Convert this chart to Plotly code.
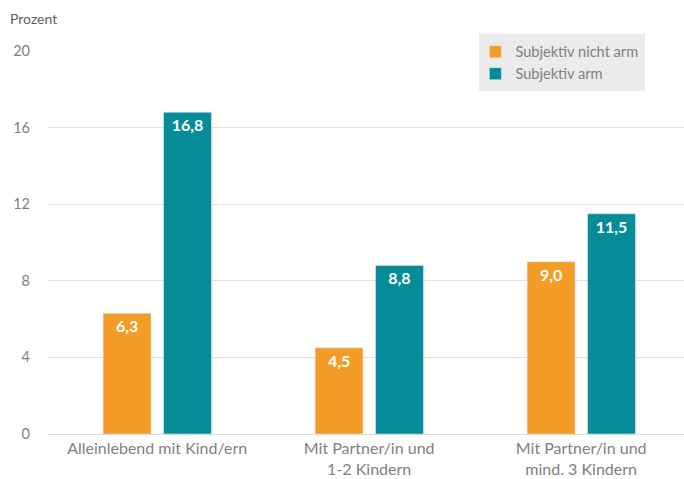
import plotly.graph_objects as go

categories = ["Alleinlebend mit Kind/ern", "Mit Partner/in und<br>1-2 Kindern", "Mit Partner/in und<br>mind. 3 Kindern"]
nicht_arm = [6.3, 4.5, 9.0]
arm = [16.8, 8.8, 11.5]
series_names = ["Subjektiv nicht arm", "Subjektiv arm"]
colors = ["#F39C26", "#068C97"]
y_ticks = [0, 4, 8, 12, 16, 20]

FONT = "Lato"
fig = go.Figure()
for name, vals, col, off in [(series_names[0], nicht_arm, colors[0], -0.255),
                              (series_names[1], arm, colors[1], 0.03)]:
    fig.add_trace(go.Bar(
        x=categories, y=vals, name=name, marker_color=col,
        width=0.226, offset=off,
        text=[f"{v:.1f}".replace(".", ",") for v in vals],
        textposition="inside", insidetextanchor="end", textangle=0,
        constraintext="none",
        textfont=dict(family=FONT, size=16, color="white", weight="bold"),
        cliponaxis=False,
    ))

fig.update_layout(
    width=684, height=479,
    margin=dict(l=48, r=0, t=51, b=45),
    paper_bgcolor="white", plot_bgcolor="white",
    font=dict(family=FONT, size=15, color="#808080"),
    barmode="group",
    showlegend=True,
    legend=dict(x=0.672, y=1.04, xanchor="left", yanchor="top",
                bgcolor="rgba(0,0,0,0)", font=dict(size=14.6, color="#7F7F7F"),
                itemwidth=30, tracegroupgap=0),
    xaxis=dict(range=[-0.515, 2.485], showgrid=False, showline=True,
               linecolor="#D9D9D9", linewidth=1, ticks="", tickfont=dict(size=16)),
    yaxis=dict(range=[0, 20], tickvals=y_ticks, gridcolor="#E0E0E0", gridwidth=1,
               zeroline=False, showline=False, ticks="", ticklabelstandoff=17,
               tickfont=dict(size=14.5)),
    shapes=[dict(type="rect", xref="paper", yref="paper",
                 x0=(479 - 48) / 636, x1=(645 - 48) / 636,
                 y0=(434 - 91) / 383, y1=(434 - 34) / 383,
                 fillcolor="#EBEBEB", line=dict(width=0), layer="below")],
    annotations=[dict(text="Prozent", xref="paper", yref="paper", x=-40 / 636, y=(434 - 8) / 383,
                      xanchor="left", yanchor="top", showarrow=False,
                      font=dict(size=14, color="#606060"))],
)
fig.write_html("out.html", config={"displayModeBar": False},
               post_script="document.body.style.margin='0';")
